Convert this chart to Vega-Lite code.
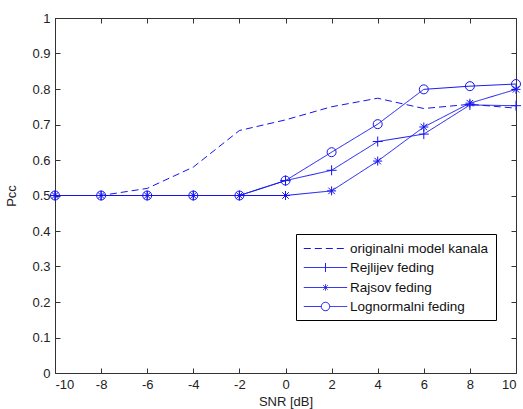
{
  "$schema": "https://vega.github.io/schema/vega-lite/v6.json",
  "autosize": "none",
  "width": 461,
  "height": 355,
  "padding": {"left": 55, "top": 18, "right": 7, "bottom": 36},
  "background": "white",
  "config": {
    "view": {"stroke": null},
    "font": "Liberation Sans",
    "axis": {
      "grid": false,
      "domainColor": "#333333",
      "tickColor": "#333333",
      "tickSize": -5,
      "labelPadding": 10,
      "labelFont": "Liberation Sans",
      "labelFontSize": 13,
      "labelColor": "#222222",
      "titleFont": "Liberation Sans",
      "titleFontSize": 13,
      "titleFontWeight": "normal",
      "titleColor": "#222222"
    }
  },
  "data": {
    "values": [
      {"snr": -10, "pcc": 0.5, "series": "originalni model kanala"},
      {"snr": -8, "pcc": 0.5, "series": "originalni model kanala"},
      {"snr": -6, "pcc": 0.52, "series": "originalni model kanala"},
      {"snr": -4, "pcc": 0.58, "series": "originalni model kanala"},
      {"snr": -2, "pcc": 0.683, "series": "originalni model kanala"},
      {"snr": 0, "pcc": 0.713, "series": "originalni model kanala"},
      {"snr": 2, "pcc": 0.75, "series": "originalni model kanala"},
      {"snr": 4, "pcc": 0.774, "series": "originalni model kanala"},
      {"snr": 6, "pcc": 0.745, "series": "originalni model kanala"},
      {"snr": 8, "pcc": 0.757, "series": "originalni model kanala"},
      {"snr": 10, "pcc": 0.746, "series": "originalni model kanala"},
      {"snr": -10, "pcc": 0.5, "series": "Rejlijev feding"},
      {"snr": -8, "pcc": 0.5, "series": "Rejlijev feding"},
      {"snr": -6, "pcc": 0.5, "series": "Rejlijev feding"},
      {"snr": -4, "pcc": 0.5, "series": "Rejlijev feding"},
      {"snr": -2, "pcc": 0.5, "series": "Rejlijev feding"},
      {"snr": 0, "pcc": 0.542, "series": "Rejlijev feding"},
      {"snr": 2, "pcc": 0.571, "series": "Rejlijev feding"},
      {"snr": 4, "pcc": 0.652, "series": "Rejlijev feding"},
      {"snr": 6, "pcc": 0.673, "series": "Rejlijev feding"},
      {"snr": 8, "pcc": 0.755, "series": "Rejlijev feding"},
      {"snr": 10, "pcc": 0.753, "series": "Rejlijev feding"},
      {"snr": -10, "pcc": 0.5, "series": "Rajsov feding"},
      {"snr": -8, "pcc": 0.5, "series": "Rajsov feding"},
      {"snr": -6, "pcc": 0.5, "series": "Rajsov feding"},
      {"snr": -4, "pcc": 0.5, "series": "Rajsov feding"},
      {"snr": -2, "pcc": 0.5, "series": "Rajsov feding"},
      {"snr": 0, "pcc": 0.5, "series": "Rajsov feding"},
      {"snr": 2, "pcc": 0.513, "series": "Rajsov feding"},
      {"snr": 4, "pcc": 0.597, "series": "Rajsov feding"},
      {"snr": 6, "pcc": 0.693, "series": "Rajsov feding"},
      {"snr": 8, "pcc": 0.76, "series": "Rajsov feding"},
      {"snr": 10, "pcc": 0.799, "series": "Rajsov feding"},
      {"snr": -10, "pcc": 0.5, "series": "Lognormalni feding"},
      {"snr": -8, "pcc": 0.5, "series": "Lognormalni feding"},
      {"snr": -6, "pcc": 0.5, "series": "Lognormalni feding"},
      {"snr": -4, "pcc": 0.5, "series": "Lognormalni feding"},
      {"snr": -2, "pcc": 0.5, "series": "Lognormalni feding"},
      {"snr": 0, "pcc": 0.542, "series": "Lognormalni feding"},
      {"snr": 2, "pcc": 0.622, "series": "Lognormalni feding"},
      {"snr": 4, "pcc": 0.701, "series": "Lognormalni feding"},
      {"snr": 6, "pcc": 0.799, "series": "Lognormalni feding"},
      {"snr": 8, "pcc": 0.808, "series": "Lognormalni feding"},
      {"snr": 10, "pcc": 0.814, "series": "Lognormalni feding"}
    ]
  },
  "layer": [
    {
      "mark": {"type": "line", "color": "#1414f0", "strokeWidth": 1},
      "encoding": {
        "x": {
          "field": "snr", "type": "quantitative",
          "scale": {"domain": [-10, 10], "nice": false, "zero": false},
          "axis": {
            "orient": "bottom", "title": "SNR [dB]", "titlePadding": 4,
            "values": [-10, -8, -6, -4, -2, 0, 2, 4, 6, 8, 10],
            "labelExpr": "'' + datum.value"
          }
        },
        "y": {
          "field": "pcc", "type": "quantitative",
          "scale": {"domain": [0, 1], "nice": false},
          "axis": {
            "orient": "left", "title": "Pcc", "titlePadding": 13,
            "values": [0, 0.1, 0.2, 0.3, 0.4, 0.5, 0.6, 0.7, 0.8, 0.9, 1],
            "labelExpr": "'' + datum.value"
          }
        },
        "strokeDash": {
          "field": "series", "type": "nominal",
          "scale": {
            "domain": ["originalni model kanala", "Rejlijev feding", "Rajsov feding", "Lognormalni feding"],
            "range": [[7, 4], [1, 0], [1, 0], [1, 0]]
          },
          "legend": {
            "title": null,
            "orient": "none",
            "legendX": 241,
            "legendY": 216,
            "padding": 7,
            "strokeColor": "black",
            "fillColor": "white",
            "cornerRadius": 0,
            "labelFont": "Liberation Sans",
            "labelFontSize": 13.5,
            "labelColor": "#111111",
            "symbolSize": 196,
            "symbolStrokeWidth": 1,
            "symbolStrokeColor": "#1414f0",
            "symbolFillColor": "transparent",
            "symbolType": "stroke",
            "rowPadding": 5,
            "labelOffset": 17,
            "symbolOffset": 15,
            "encode": {
              "symbols": {
                "update": {
                  "stroke": {"value": "#1414f0"},
                  "fill": {"value": "transparent"},
                  "shape": {
                    "signal": "datum.value === 'Rejlijev feding' ? 'M-3.1,0H3.1M0,-0.65V0.65' : datum.value === 'Rajsov feding' ? 'M-3.1,0H3.1M0,-0.45V0.45M-0.32,-0.32L0.32,0.32M-0.32,0.32L0.32,-0.32' : datum.value === 'Lognormalni feding' ? 'M-3.1,0H-0.6M0.6,0H3.1M0.6,0A0.6,0.6 0 1,1 -0.6,0A0.6,0.6 0 1,1 0.6,0Z' : 'M-3.1,0H3.1'"
                  }
                }
              }
            }
          }
        },
        "detail": {"field": "series", "type": "nominal"}
      }
    },
    {
      "transform": [{"filter": "datum.series !== 'originalni model kanala'"}],
      "mark": {"type": "point", "filled": false, "color": "#1414f0", "strokeWidth": 1, "size": 100, "opacity": 1},
      "encoding": {
        "x": {
          "field": "snr", "type": "quantitative",
          "axis": {
            "orient": "top", "title": null, "labels": false,
            "values": [-10, -8, -6, -4, -2, 0, 2, 4, 6, 8, 10]
          }
        },
        "y": {
          "field": "pcc", "type": "quantitative",
          "axis": {
            "orient": "right", "title": null, "labels": false,
            "values": [0, 0.1, 0.2, 0.3, 0.4, 0.5, 0.6, 0.7, 0.8, 0.9, 1]
          }
        },
        "shape": {
          "field": "series", "type": "nominal",
          "scale": {
            "domain": ["Rejlijev feding", "Rajsov feding", "Lognormalni feding"],
            "range": [
              "M-1,0H1M0,-1V1",
              "M-0.9,0H0.9M0,-0.9V0.9M-0.65,-0.65L0.65,0.65M-0.65,0.65L0.65,-0.65",
              "M0.9,0A0.9,0.9 0 1,1 -0.9,0A0.9,0.9 0 1,1 0.9,0Z"
            ]
          },
          "legend": null
        }
      }
    }
  ],
  "resolve": {"axis": {"x": "independent", "y": "independent"}}
}
